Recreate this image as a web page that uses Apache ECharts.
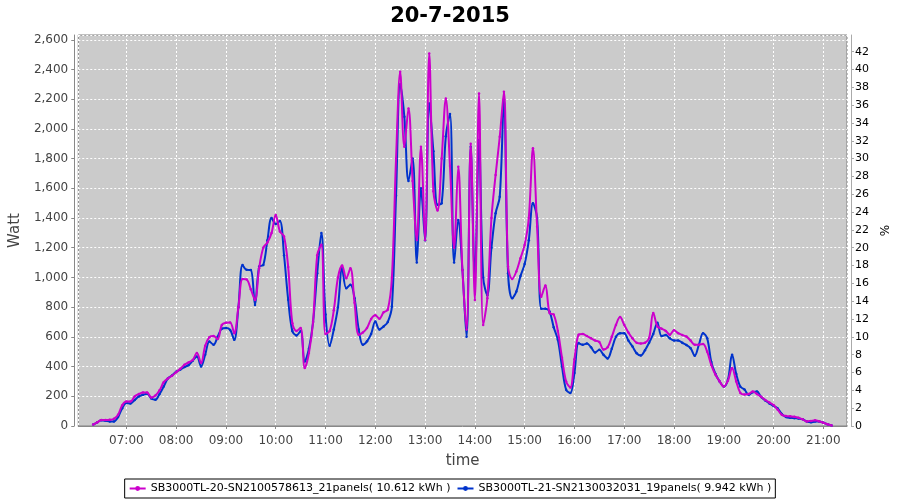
<!DOCTYPE html>
<html>
<head>
<meta charset="utf-8">
<script src="https://cdn.jsdelivr.net/npm/echarts@6/dist/echarts.min.js"></script>
<style>html,body{margin:0;padding:0;background:#fff}#c{width:900px;height:500px}</style>
</head>
<body>
<div id="c"></div>
<script>
// Sampling: every 5 minutes starting 06:20 on 20-7-2015
const sampleStart = [6, 20];
const sampleStepMin = 5;
const seriesNames = [
  'SB3000TL-20-SN2100578613_21panels( 10.612 kWh )',
  'SB3000TL-21-SN2130032031_19panels( 9.942 kWh )'
];
// Watt, inverter 20 (magenta)
const inv20 = [
  10, 25, 40, 40, 42, 48, 76, 140, 165, 165, 199, 215,
  226, 226, 192, 205, 240, 295, 320, 338, 362, 385, 412, 428,
  445, 491, 424, 540, 598, 605, 585, 680, 695, 697, 625, 800,
  990, 986, 920, 849, 1062, 1200, 1235, 1300, 1420, 1310, 1275, 1070,
  692, 640, 660, 390, 491, 700, 1150, 1220, 620, 640, 780, 1000,
  1080, 995, 1062, 830, 614, 630, 660, 720, 745, 722, 765, 782,
  1000, 1800, 2384, 1880, 2138, 1650, 1252, 1880, 1252, 2508, 1580, 1450,
  1800, 2205, 1750, 1200, 1745, 1050, 650, 1900, 849, 2239, 680, 860,
  1400, 1690, 1947, 2250, 1073, 990, 1040, 1130, 1219, 1400, 1869, 1342,
  870, 945, 760, 750, 640, 460, 300, 260, 450, 614, 620, 605,
  590, 575, 565, 515, 530, 600, 680, 733, 681, 630, 590, 560,
  556, 560, 592, 760, 670, 655, 640, 615, 645, 625, 612, 602,
  575, 547, 547, 552, 500, 410, 345, 300, 266, 305, 390, 300,
  222, 212, 215, 232, 215, 197, 175, 158, 142, 110, 75, 68,
  65, 62, 56, 45, 31, 34, 38, 32, 22, 12, 4
];
// Watt, inverter 21 (blue)
const inv21 = [
  10, 25, 38, 35, 31, 31, 60, 120, 155, 152, 175, 199,
  210, 217, 185, 177, 215, 266, 320, 340, 365, 380, 397, 410,
  440, 468, 401, 480, 569, 547, 600, 655, 659, 647, 580, 800,
  1084, 1051, 1050, 815, 1073, 1084, 1250, 1400, 1360, 1380, 1150, 850,
  640, 610, 640, 434, 520, 700, 1029, 1300, 750, 540, 650, 800,
  1062, 928, 950, 860, 650, 547, 570, 620, 703, 650, 670, 700,
  804, 1550, 2300, 2081, 1650, 1800, 1100, 1600, 1250, 2171, 1850, 1490,
  1500, 1950, 2100, 1100, 1387, 1050, 600, 1880, 1000, 1925, 1000, 880,
  1200, 1432, 1544, 2200, 1029, 860, 905, 1010, 1090, 1250, 1500, 1400,
  790, 790, 770, 665, 580, 400, 244, 222, 356, 558, 547, 555,
  530, 495, 513, 480, 455, 520, 600, 625, 625, 575, 535, 490,
  475, 510, 560, 620, 695, 605, 612, 590, 576, 576, 560, 545,
  524, 473, 547, 625, 590, 430, 350, 300, 266, 311, 479, 350,
  265, 245, 210, 228, 232, 195, 172, 152, 135, 118, 80, 60,
  55, 53, 50, 46, 30, 25, 30, 30, 22, 12, 4
];
const leftTicks = {min: 0, max: 2632, step: 200};
const rightTicks = {min: 0, max: 43.87, step: 2};
const timeRange = {start: [6, 2, 0], end: [21, 28, 30]};

function ts(h, m, s) { return new Date(2015, 6, 20, h, m, s || 0).getTime(); }
function toPairs(vals) {
  return vals.map((v, i) => [ts(sampleStart[0], sampleStart[1] + i * sampleStepMin), v]);
}
function pad(n) { return (n < 10 ? '0' : '') + n; }

const FONT = 'DejaVu Sans';
const chart = echarts.init(document.getElementById('c'), null, {renderer: 'canvas'});
chart.setOption({
  animation: false,
  backgroundColor: '#ffffff',
  title: {
    text: '20-7-2015', left: 'center', top: 1,
    textStyle: {fontFamily: FONT, fontWeight: 'bold', fontSize: 21, color: '#000'}
  },
  grid: {
    left: 75, right: 53, top: 35, bottom: 74,
    show: true, backgroundColor: '#cbcbcb', borderColor: '#808080', borderWidth: 1
  },
  legend: {
    bottom: 2, left: 'center',
    data: [seriesNames[0], seriesNames[1]],
    borderColor: '#000', borderWidth: 1, padding: [4, 4], itemGap: 6,
    itemWidth: 16, itemHeight: 6,
    textStyle: {fontFamily: FONT, fontSize: 11, color: '#000'}
  },
  xAxis: {
    type: 'time',
    min: ts(...timeRange.start), max: ts(...timeRange.end),
    minInterval: 3600000, maxInterval: 3600000,
    offset: 4,
    name: 'time', nameLocation: 'middle', nameGap: 24,
    nameTextStyle: {fontFamily: FONT, fontSize: 15, color: '#444'},
    axisLine: {show: true, lineStyle: {color: '#888'}},
    axisTick: {show: true, length: 3, lineStyle: {color: '#888'}},
    axisLabel: {
      fontFamily: FONT, fontSize: 12, color: '#444', margin: 5,
      showMinLabel: false, showMaxLabel: false,
      formatter: function (v) { const d = new Date(v); return d.getMinutes() === 0 ? pad(d.getHours()) + ':00' : ''; }
    },
    splitLine: {show: true, lineStyle: {color: '#ffffff', type: [2, 2], width: 1}}
  },
  yAxis: [{
    type: 'value', position: 'left',
    min: leftTicks.min, max: leftTicks.max, interval: leftTicks.step,
    offset: 4,
    name: 'Watt', nameLocation: 'middle', nameGap: 45, nameRotate: 90,
    nameTextStyle: {fontFamily: FONT, fontSize: 15, color: '#444'},
    axisLine: {show: true, lineStyle: {color: '#888'}},
    axisTick: {show: true, length: 3, lineStyle: {color: '#888'}},
    axisLabel: {
      fontFamily: FONT, fontSize: 12, color: '#444', margin: 6, showMaxLabel: false,
      formatter: function (v) { return v.toLocaleString('en-US'); }
    },
    splitLine: {show: true, lineStyle: {color: '#ffffff', type: [2, 2], width: 1}}
  }, {
    type: 'value', position: 'right',
    min: rightTicks.min, max: rightTicks.max, interval: rightTicks.step,
    offset: 4,
    name: '%', nameLocation: 'middle', nameGap: 25, nameRotate: 90,
    nameTextStyle: {fontFamily: FONT, fontSize: 12, color: '#000'},
    axisLine: {show: true, lineStyle: {color: '#aaa'}},
    axisTick: {show: true, length: 3, lineStyle: {color: '#aaa'}},
    axisLabel: {fontFamily: FONT, fontSize: 11, color: '#000', margin: 4, showMaxLabel: false},
    splitLine: {show: false}
  }],
  series: [{
    name: seriesNames[1], type: 'line', yAxisIndex: 0, z: 2,
    data: toPairs(inv21), smooth: 0.35,
    symbol: 'circle', symbolSize: 2.5, showSymbol: true,
    itemStyle: {color: '#0033cc'}, lineStyle: {color: '#0033cc', width: 2}
  }, {
    name: seriesNames[0], type: 'line', yAxisIndex: 0, z: 3,
    data: toPairs(inv20), smooth: 0.35,
    symbol: 'circle', symbolSize: 2.5, showSymbol: true,
    itemStyle: {color: '#cc00cc'}, lineStyle: {color: '#cc00cc', width: 2}
  }]
});
</script>
</body>
</html>
